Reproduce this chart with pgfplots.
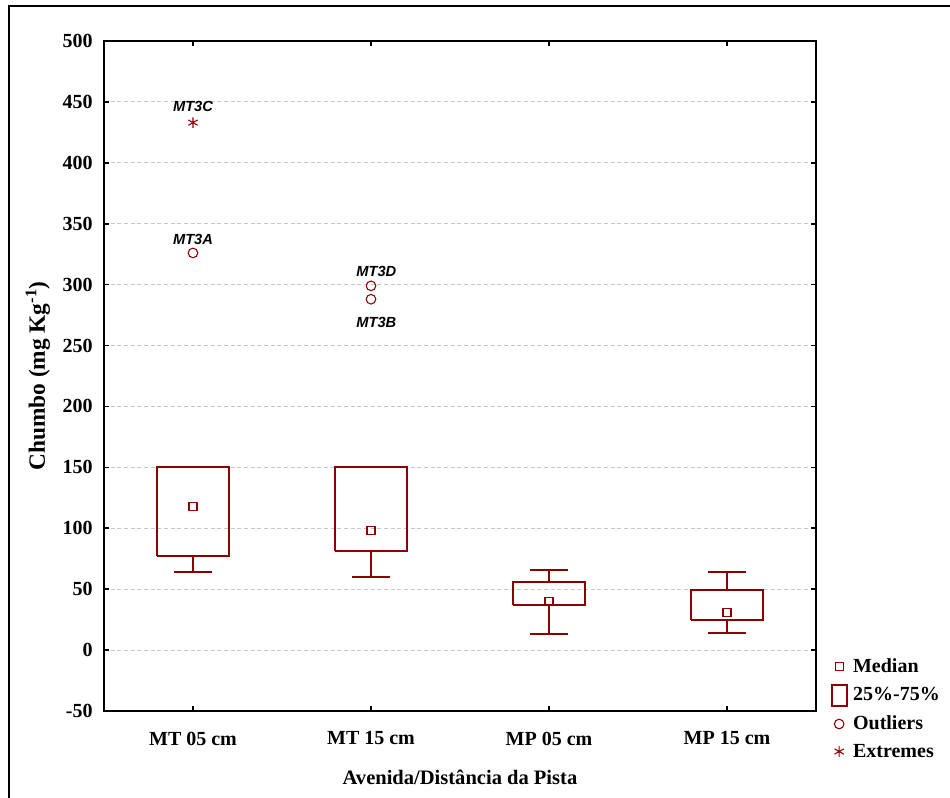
\documentclass[border=0pt]{standalone}
\usepackage{pgfplots}
\pgfplotsset{compat=1.18}
\usepackage{fontspec}
\setmainfont{Liberation Serif}
\newfontfamily\labfont{Liberation Sans}
\definecolor{boxred}{RGB}{139,0,0}
\begin{document}
\begin{tikzpicture}
\path[use as bounding box] (0,0) rectangle (712.5pt,598.5pt);
\draw[line width=1.5pt] (6.75pt,-5pt) -- (6.75pt,594pt) -- (720pt,594pt);
\begin{axis}[
  at={(78pt,65.25pt)}, anchor=south west,
  width=534pt, height=502.5pt, scale only axis,
  xmin=-0.5, xmax=3.5, ymin=-50, ymax=500,
  xtick={0,1,2,3},
  xticklabels={MT 05 cm, MT 15 cm, MP 05 cm, MP 15 cm},
  ytick={-50,0,50,100,150,200,250,300,350,400,450,500},
  ymajorgrids, grid style={densely dashed, gray!45, line width=0.6pt},
  tick align=inside, major tick length=4pt,
  tick style={black, line width=1.2pt},
  axis line style={line width=1.3pt},
  /pgf/number format/assume math mode=true,
  tick label style={font=\bfseries\fontsize{15}{17}\selectfont},
  yticklabel style={xshift=-5pt},
  xticklabel style={yshift=-12pt},
  xlabel={Avenida/Distância da Pista},
  ylabel={Chumbo (mg Kg\textsuperscript{-1})},
  xlabel style={font=\bfseries\fontsize{15.4}{17}\selectfont, at={(axis description cs:0.5,-0.0985)}, anchor=center},
  ylabel style={font=\bfseries\fontsize{17.5}{19}\selectfont, at={(axis description cs:-0.093,0.5)}, anchor=center},
  legend style={at={(1.0145,0.087)}, anchor=north west, draw=none, fill=none,
    font=\bfseries\fontsize{15}{17}\selectfont, row sep=5pt, column sep=2pt,
    nodes={inner sep=2pt}},
  legend cell align=left,
  every axis plot/.append style={forget plot},
]
% boxes (quartiles)
\addplot[boxred, line width=1.5pt] coordinates {(-0.2,77) (0.2,77) (0.2,150) (-0.2,150) (-0.2,77)};
\addplot[boxred, line width=1.5pt] coordinates {(0.8,81) (1.2,81) (1.2,150) (0.8,150) (0.8,81)};
\addplot[boxred, line width=1.5pt] coordinates {(1.8,37) (2.2,37) (2.2,56) (1.8,56) (1.8,37)};
\addplot[boxred, line width=1.5pt] coordinates {(2.8,24.5) (3.2,24.5) (3.2,49) (2.8,49) (2.8,24.5)};
% whiskers
\addplot[boxred, line width=1.5pt] coordinates {(0,77) (0,64)};
\addplot[boxred, line width=1.5pt] coordinates {(-0.105,64) (0.105,64)};
\addplot[boxred, line width=1.5pt] coordinates {(-0.105,150) (0.105,150)};
\addplot[boxred, line width=1.5pt] coordinates {(1,81) (1,60)};
\addplot[boxred, line width=1.5pt] coordinates {(0.895,60) (1.105,60)};
\addplot[boxred, line width=1.5pt] coordinates {(0.895,150) (1.105,150)};
\addplot[boxred, line width=1.5pt] coordinates {(2,37) (2,13)};
\addplot[boxred, line width=1.5pt] coordinates {(1.895,13) (2.105,13)};
\addplot[boxred, line width=1.5pt] coordinates {(2,56) (2,66)};
\addplot[boxred, line width=1.5pt] coordinates {(1.895,66) (2.105,66)};
\addplot[boxred, line width=1.5pt] coordinates {(3,24.5) (3,14)};
\addplot[boxred, line width=1.5pt] coordinates {(2.895,14) (3.105,14)};
\addplot[boxred, line width=1.5pt] coordinates {(3,49) (3,64)};
\addplot[boxred, line width=1.5pt] coordinates {(2.895,64) (3.105,64)};
% medians
\addplot[only marks, mark=square, mark size=3pt, boxred, line width=0.8pt, mark options={fill=white}]
  coordinates {(0,118) (1,98) (2,40) (3,31)};
% outliers
\addplot[only marks, mark=o, mark size=3.6pt, boxred, line width=0.8pt]
  coordinates {(0,326) (1,299) (1,288)};
% extremes
\addplot[only marks, mark=asterisk, mark size=4pt, boxred, line width=0.8pt]
  coordinates {(0,433)};
% labels
\node[font=\labfont\bfseries\itshape\fontsize{11}{12}\selectfont] at (axis cs:0,446) {MT3C};
\node[font=\labfont\bfseries\itshape\fontsize{11}{12}\selectfont] at (axis cs:0,337) {MT3A};
\node[font=\labfont\bfseries\itshape\fontsize{11}{12}\selectfont] at (axis cs:1.03,311) {MT3D};
\node[font=\labfont\bfseries\itshape\fontsize{11}{12}\selectfont] at (axis cs:1.03,269) {MT3B};
% legend
\addlegendimage{only marks, mark=square, mark size=3pt, boxred, line width=0.8pt}
\addlegendentry{Median}
\addlegendimage{boxred, line width=1.5pt, legend image code/.code={\draw[boxred, line width=1.5pt] (0.1cm,-0.28cm) rectangle (0.5cm,0.28cm);}}
\addlegendentry{25\%-75\%}
\addlegendimage{only marks, mark=o, mark size=3.6pt, boxred, line width=0.8pt}
\addlegendentry{Outliers}
\addlegendimage{only marks, mark=asterisk, mark size=4pt, boxred, line width=0.8pt}
\addlegendentry{Extremes}
\end{axis}
\end{tikzpicture}
\end{document}
